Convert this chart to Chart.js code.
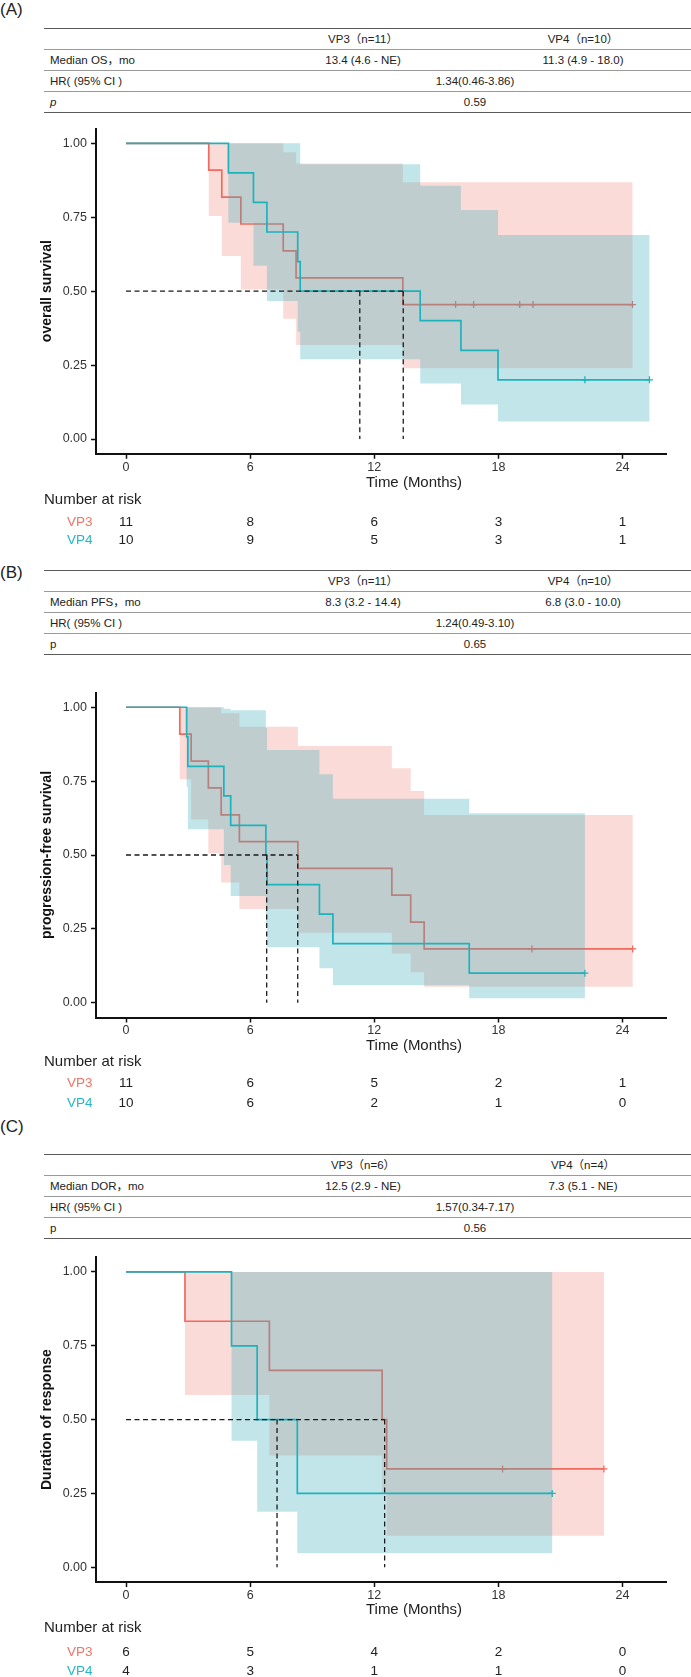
<!DOCTYPE html>
<html><head><meta charset="utf-8">
<script src="https://cdn.jsdelivr.net/npm/chart.js@4"></script>
<style>
html,body{margin:0;padding:0;background:#fff;}
body{width:691px;height:1677px;position:relative;overflow:hidden;font-family:"Liberation Sans",Arial,"Noto Sans CJK SC",sans-serif;color:#222;}
.plabel{position:absolute;left:0;font-size:17px;line-height:17px;transform:translateY(-50%);}
.hline{position:absolute;left:44px;width:647px;height:0;}
.tc{position:absolute;font-size:11.5px;white-space:nowrap;transform:translate(-50%,-50%);line-height:13px;}
.tlft{position:absolute;font-size:11.5px;white-space:nowrap;transform:translateY(-50%);line-height:13px;}
canvas{position:absolute;left:0;}
</style></head><body>
<script>
// ---------- shared axis data ----------
const xTicks = [0, 6, 12, 18, 24];
const yTicks = [0, 0.25, 0.5, 0.75, 1];
const riskTimes = [0, 6, 12, 18, 24];
const groupNames = ['VP3', 'VP4'];

// ---------- Panel A: overall survival ----------
const osVP3Times  = [0, 4.0, 4.63, 5.55, 7.6, 8.22, 13.38];
const osVP3Surv   = [1, 0.909, 0.818, 0.727, 0.636, 0.545, 0.4545];
const osVP3Upper  = [1, 1, 1, 1, 0.97, 0.932, 0.868];
const osVP3Lower  = [1, 0.754, 0.619, 0.506, 0.407, 0.318, 0.239];
const osVP3End    = 24.48;
const osVP3Censor = [15.93, 16.8, 19.03, 19.67, 24.48];
const osVP4Times  = [0, 4.95, 6.16, 6.81, 8.3, 8.42, 14.22, 16.19, 17.98];
const osVP4Surv   = [1, 0.9, 0.8, 0.7, 0.6, 0.5, 0.4, 0.3, 0.2];
const osVP4Upper  = [1, 1, 1, 1, 1, 0.929, 0.856, 0.774, 0.69];
const osVP4Lower  = [1, 0.731, 0.586, 0.467, 0.363, 0.27, 0.188, 0.117, 0.059];
const osVP4End    = 25.3;
const osVP4Censor = [22.18, 25.3];
const osMedians   = [13.4, 11.3];
const osRiskVP3   = [11, 8, 6, 3, 1];
const osRiskVP4   = [10, 9, 5, 3, 1];

// ---------- Panel B: progression-free survival ----------
const pfsVP3Times  = [0, 2.6, 3.15, 3.98, 4.6, 5.48, 8.31, 12.85, 13.76, 14.41];
const pfsVP3Surv   = [1, 0.909, 0.818, 0.727, 0.636, 0.545, 0.4545, 0.364, 0.273, 0.182];
const pfsVP3Upper  = [1, 1, 1, 1, 0.98, 0.934, 0.869, 0.794, 0.717, 0.635];
const pfsVP3Lower  = [1, 0.756, 0.62, 0.506, 0.407, 0.317, 0.237, 0.167, 0.103, 0.054];
const pfsVP3End    = 24.49;
const pfsVP3Censor = [19.62, 24.49];
const pfsVP4Times  = [0, 2.93, 2.99, 4.73, 5.06, 6.76, 6.82, 9.35, 10.0, 16.59];
const pfsVP4Surv   = [1, 0.9, 0.8, 0.7, 0.6, 0.5, 0.4, 0.3, 0.2, 0.1];
const pfsVP4Upper  = [1, 1, 1, 0.995, 0.99, 0.93, 0.855, 0.773, 0.69, 0.641];
const pfsVP4Lower  = [1, 0.73, 0.587, 0.466, 0.361, 0.27, 0.1875, 0.117, 0.059, 0.015];
const pfsVP4End    = 22.18;
const pfsVP4Censor = [22.18];
const pfsMedians   = [8.3, 6.8];
const pfsRiskVP3   = [11, 6, 5, 2, 1];
const pfsRiskVP4   = [10, 6, 2, 1, 0];

// ---------- Panel C: duration of response ----------
const dorVP3Times  = [0, 2.85, 6.93, 12.38, 12.6];
const dorVP3Surv   = [1, 0.833, 0.667, 0.5, 0.333];
const dorVP3Upper  = [1, 1, 1, 1, 1];
const dorVP3Lower  = [1, 0.583, 0.378, 0.25, 0.107];
const dorVP3End    = 23.1;
const dorVP3Censor = [18.2, 23.1];
const dorVP4Times  = [0, 5.1, 6.34, 8.28];
const dorVP4Surv   = [1, 0.75, 0.5, 0.25];
const dorVP4Upper  = [1, 1, 1, 1];
const dorVP4Lower  = [1, 0.428, 0.188, 0.047];
const dorVP4End    = 20.6;
const dorVP4Censor = [20.6];
const dorMedians   = [12.5, 7.3];
const dorRiskVP3   = [6, 5, 4, 2, 0];
const dorRiskVP4   = [4, 3, 1, 1, 0];

// ---------- summary tables ----------
const tabA = {head: ['VP3（n=11）', 'VP4（n=10）'], medLabel: 'Median OS，mo', med: ['13.4 (4.6 - NE)', '11.3 (4.9 - 18.0)'], hr: '1.34(0.46-3.86)', p: '0.59', pItalic: true};
const tabB = {head: ['VP3（n=11）', 'VP4（n=10）'], medLabel: 'Median PFS，mo', med: ['8.3 (3.2 - 14.4)', '6.8 (3.0 - 10.0)'], hr: '1.24(0.49-3.10)', p: '0.65', pItalic: false};
const tabC = {head: ['VP3（n=6）', 'VP4（n=4）'], medLabel: 'Median DOR，mo', med: ['12.5 (2.9 - NE)', '7.3 (5.1 - NE)'], hr: '1.57(0.34-7.17)', p: '0.56', pItalic: false};

// ---------- styling ----------
const RED_LINE = '#EE6B5E', BLUE_LINE = '#1DB3BD';
const RED_FILL = 'rgba(240,110,100,0.25)', BLUE_FILL = 'rgba(64,175,190,0.32)';
const RED_TXT = '#F07468', BLUE_TXT = '#22B8C4';
const FONT = '"Liberation Sans", Arial, sans-serif';
Chart.defaults.font.family = FONT;

const ROW_H = 21.1;
const colVP3 = 363, colVP4 = 583, colMid = 475;

function el(cls, txt, left, top, extra) {
  const d = document.createElement('div');
  d.className = cls; d.textContent = txt;
  d.style.left = left + 'px'; d.style.top = top + 'px';
  if (extra) Object.assign(d.style, extra);
  document.body.appendChild(d);
  return d;
}
function makeTable(label, labelY, T, tab) {
  el('plabel', label, 0, labelY);
  for (let i = 0; i <= 4; i++) {
    const d = document.createElement('div');
    d.className = 'hline';
    d.style.top = (T + i * ROW_H) + 'px';
    d.style.borderTop = (i === 0 || i === 4) ? '1.5px solid #5a5a5a' : '1px solid #9a9a9a';
    document.body.appendChild(d);
  }
  const c = r => T + ROW_H * (r + 0.5) + 0.5;
  el('tc', tab.head[0], colVP3, c(0));
  el('tc', tab.head[1], colVP4, c(0));
  el('tlft', tab.medLabel, 50, c(1));
  el('tc', tab.med[0], colVP3, c(1));
  el('tc', tab.med[1], colVP4, c(1));
  el('tlft', 'HR( (95% CI )', 50, c(2));
  el('tc', tab.hr, colMid, c(2));
  el('tlft', 'p', 50, c(3), tab.pItalic ? {fontStyle: 'italic'} : null);
  el('tc', tab.p, colMid, c(3));
}

function stepPoints(times, vals, end) {
  const pts = [];
  for (let i = 0; i < times.length; i++) {
    const next = i + 1 < times.length ? times[i + 1] : end;
    pts.push({x: times[i], y: vals[i]});
    pts.push({x: next, y: vals[i]});
  }
  return pts;
}
function survAt(times, vals, t) {
  let v = vals[0];
  for (let i = 0; i < times.length; i++) if (times[i] <= t) v = vals[i];
  return v;
}

function makePanel(p) {
  const cv = document.createElement('canvas');
  cv.width = 691; cv.height = p.canvasH;
  cv.style.top = p.canvasTop + 'px';
  cv.style.width = '691px'; cv.style.height = p.canvasH + 'px';
  document.body.appendChild(cv);
  const bottomRel = p.chartBottom - p.canvasTop;
  const groups = [
    {t: p.t3, s: p.s3, u: p.u3, l: p.l3, e: p.e3, c: p.c3, line: RED_LINE, fill: RED_FILL, base: 8},
    {t: p.t4, s: p.s4, u: p.u4, l: p.l4, e: p.e4, c: p.c4, line: BLUE_LINE, fill: BLUE_FILL, base: 4}
  ];
  const datasets = [];
  groups.forEach(g => {
    const upper = stepPoints(g.t, g.u, g.e);
    const lower = stepPoints(g.t, g.l, g.e).reverse();
    datasets.push({data: upper.concat(lower), fill: 'shape', backgroundColor: g.fill, borderWidth: 0, borderColor: 'rgba(0,0,0,0)', pointRadius: 0, order: g.base + 3});
    datasets.push({data: stepPoints(g.t, g.s, g.e), fill: false, borderColor: g.line, borderWidth: 1.7, pointRadius: 0, tension: 0, order: g.base + 2});
    datasets.push({data: g.c.map(t => ({x: t, y: survAt(g.t, g.s, t)})), showLine: false, pointStyle: 'cross', pointRadius: 3.5, pointBorderWidth: 1.3, pointBorderColor: g.line, pointBackgroundColor: g.line, order: g.base + 1});
  });
  const mMax = Math.max(...p.med);
  const dash = {fill: false, borderColor: '#1a1a1a', borderWidth: 1.3, borderDash: [5, 3.5], pointRadius: 0, order: 1};
  datasets.push(Object.assign({data: [{x: 0, y: 0.5}, {x: mMax, y: 0.5}]}, dash));
  p.med.forEach(m => datasets.push(Object.assign({data: [{x: m, y: 0.5}, {x: m, y: 0}]}, dash)));

  const riskPlugin = {
    id: 'riskTable',
    afterDraw(chart) {
      const {ctx, chartArea, scales} = chart;
      const b = chartArea.bottom;
      ctx.save();
      ctx.textBaseline = 'middle';
      ctx.fillStyle = '#222';
      ctx.font = '15px ' + FONT;
      ctx.textAlign = 'center';
      ctx.fillText('Time (Months)', p.titleX, b + p.off[0]);
      ctx.textAlign = 'left';
      ctx.fillText('Number at risk', 44, b + p.off[1]);
      ctx.font = '13.5px ' + FONT;
      ctx.textAlign = 'right';
      ctx.fillStyle = RED_TXT; ctx.fillText(groupNames[0], 92.5, b + p.off[2]);
      ctx.fillStyle = BLUE_TXT; ctx.fillText(groupNames[1], 92.5, b + p.off[3]);
      ctx.textAlign = 'center';
      ctx.fillStyle = '#222';
      riskTimes.forEach((t, i) => {
        const x = scales.x.getPixelForValue(t);
        ctx.fillText(String(p.r3[i]), x, b + p.off[2]);
        ctx.fillText(String(p.r4[i]), x, b + p.off[3]);
      });
      ctx.restore();
    }
  };

  new Chart(cv, {
    type: 'line',
    data: {datasets},
    options: {
      responsive: false, animation: false, events: [],
      layout: {padding: {left: 0, right: 25, top: p.chartTop - p.canvasTop, bottom: 0}},
      plugins: {legend: {display: false}, tooltip: {enabled: false}},
      scales: {
        x: {
          type: 'linear', min: -1.45, max: 26.1,
          afterBuildTicks: s => { s.ticks = xTicks.map(v => ({value: v})); },
          afterFit: s => { s.height = p.canvasH - bottomRel; },
          grid: {display: true, drawOnChartArea: false, drawTicks: true, tickLength: 5, tickWidth: 1.5, tickColor: '#111'},
          border: {display: true, color: '#111', width: 2},
          ticks: {font: {size: 12.5}, color: '#333', padding: 1, maxRotation: 0, autoSkip: false}
        },
        y: {
          type: 'linear', min: -0.05, max: 1.05,
          afterBuildTicks: s => { s.ticks = yTicks.map(v => ({value: v})); },
          afterFit: s => { s.width = 96; },
          grid: {display: true, drawOnChartArea: false, drawTicks: true, tickLength: 5, tickWidth: 1.5, tickColor: '#111'},
          border: {display: true, color: '#111', width: 2},
          ticks: {font: {size: 12.5}, color: '#333', padding: 4, callback: v => Number(v).toFixed(2)},
          title: {display: true, text: p.yTitle, font: {size: 14, weight: 'bold'}, color: '#111', padding: {top: 38.6, bottom: 0}}
        }
      }
    },
    plugins: [riskPlugin]
  });
}

makeTable('(A)', 9, 28, tabA);
makeTable('(B)', 572, 570, tabB);
makeTable('(C)', 1126, 1154, tabC);

makePanel({canvasTop: 115, canvasH: 440, chartTop: 128.5, chartBottom: 453.8, yTitle: 'overall survival', titleX: 414,
  off: [29, 46, 68, 86],
  t3: osVP3Times, s3: osVP3Surv, u3: osVP3Upper, l3: osVP3Lower, e3: osVP3End, c3: osVP3Censor,
  t4: osVP4Times, s4: osVP4Surv, u4: osVP4Upper, l4: osVP4Lower, e4: osVP4End, c4: osVP4Censor,
  med: osMedians, r3: osRiskVP3, r4: osRiskVP4});
makePanel({canvasTop: 680, canvasH: 433, chartTop: 692.5, chartBottom: 1017.5, yTitle: 'progression-free survival', titleX: 414,
  off: [28, 44, 66, 86],
  t3: pfsVP3Times, s3: pfsVP3Surv, u3: pfsVP3Upper, l3: pfsVP3Lower, e3: pfsVP3End, c3: pfsVP3Censor,
  t4: pfsVP4Times, s4: pfsVP4Surv, u4: pfsVP4Upper, l4: pfsVP4Lower, e4: pfsVP4End, c4: pfsVP4Censor,
  med: pfsMedians, r3: pfsRiskVP3, r4: pfsRiskVP4});
makePanel({canvasTop: 1245, canvasH: 432, chartTop: 1257.2, chartBottom: 1582, yTitle: 'Duration of response', titleX: 414,
  off: [28, 46, 70, 89],
  t3: dorVP3Times, s3: dorVP3Surv, u3: dorVP3Upper, l3: dorVP3Lower, e3: dorVP3End, c3: dorVP3Censor,
  t4: dorVP4Times, s4: dorVP4Surv, u4: dorVP4Upper, l4: dorVP4Lower, e4: dorVP4End, c4: dorVP4Censor,
  med: dorMedians, r3: dorRiskVP3, r4: dorRiskVP4});
</script>
</body></html>
